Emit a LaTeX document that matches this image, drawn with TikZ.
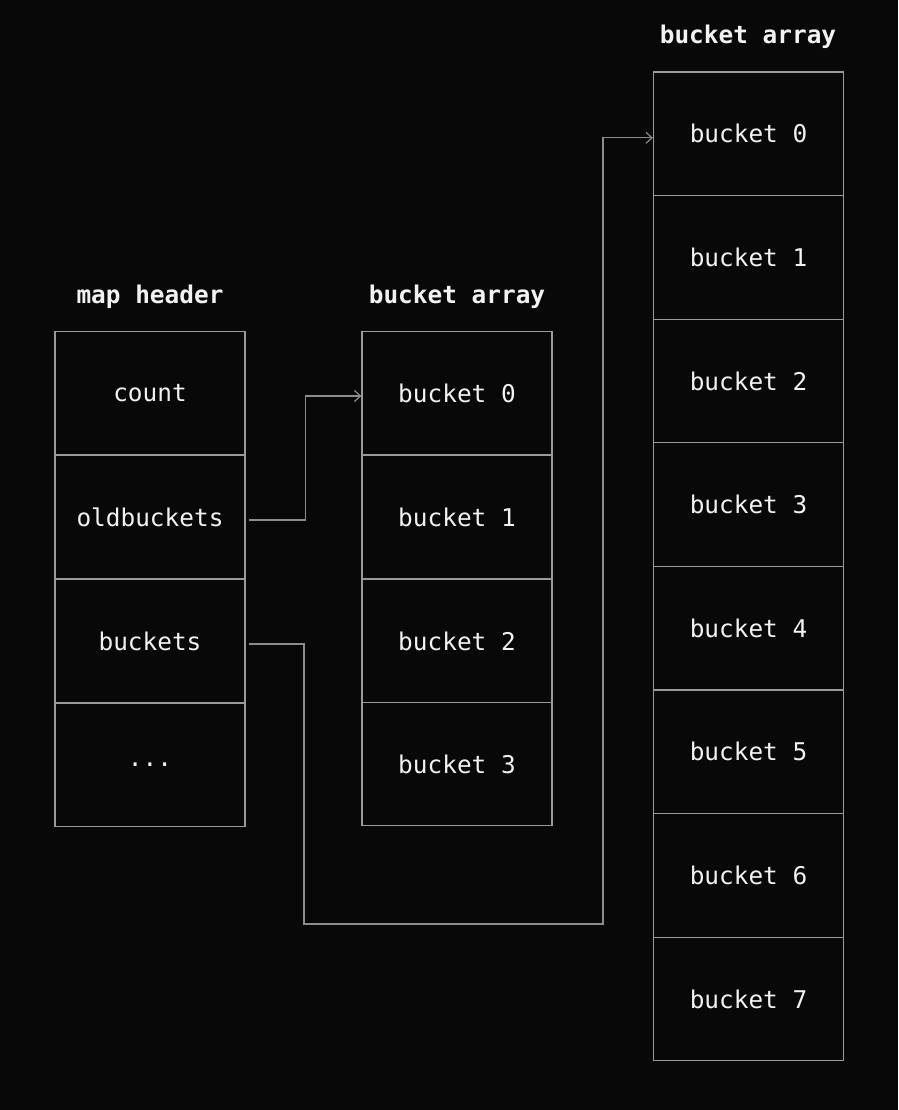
\documentclass[tikz,border=0pt]{standalone}
\usepackage{fontspec}
\setmonofont{DejaVu Sans Mono}
\usetikzlibrary{arrows.meta}
\definecolor{bg}{HTML}{080808}
\definecolor{edge}{HTML}{9A9A9A}
\definecolor{wire}{HTML}{8C8C8C}
\definecolor{ink}{HTML}{F2F2F2}
\tikzset{
  cell/.style={draw=edge, line width=1.3pt, fill=bg, minimum width=190pt, minimum height=123.6pt,
    inner sep=0pt, text=ink, font=\ttfamily\fontsize{24.4}{28}\selectfont},
  title/.style={text=ink, font=\ttfamily\bfseries\fontsize{24.4}{28}\selectfont, inner sep=0pt},
  wireline/.style={draw=wire, line width=1.3pt},
  tip/.style={-{Straight Barb[length=6pt,width=11pt,line width=1.2pt]}}
}
\begin{document}
\begin{tikzpicture}[x=1pt,y=-1pt]
\fill[bg] (0,0) rectangle (898,1110);
\useasboundingbox (0,0) rectangle (898,1110);
% map header
\node[title] (th) at (150,297) {map header};
\node[cell] (cnt) at (150,393) {count};
\node[cell] (ob)  at (150,517) {oldbuckets};
\node[cell] (bk)  at (150,641) {buckets};
\node[cell] (dots) at (150,765) {...};
% old bucket array
\node[title] (tm) at (457,297) {bucket array};
\node[cell] (m0) at (457,393) {bucket 0};
\node[cell] (m1) at (457,517) {bucket 1};
\node[cell] (m2) at (457,641) {bucket 2};
\node[cell] (m3) at (457,764) {bucket 3};
% new bucket array
\node[title] (tr) at (748,37) {bucket array};
\foreach \i in {0,...,7} {
  \node[cell] (r\i) at (748.5,{133.8+123.6*\i}) {bucket \i};
}
% connectors
\draw[wireline,tip] ([xshift=3pt,yshift=-3pt]ob.east) -| ([xshift=60pt,yshift=-3pt]ob.east |- m0.west) -- ([yshift=-3pt]m0.west);
\coordinate (c1) at (304,924);
\coordinate (c2) at (603,924);
\draw[wireline,tip] ([xshift=3pt,yshift=-3pt]bk.east) -| (c1) -- (c2) |- ([yshift=-4pt]r0.west);
\end{tikzpicture}
\end{document}
